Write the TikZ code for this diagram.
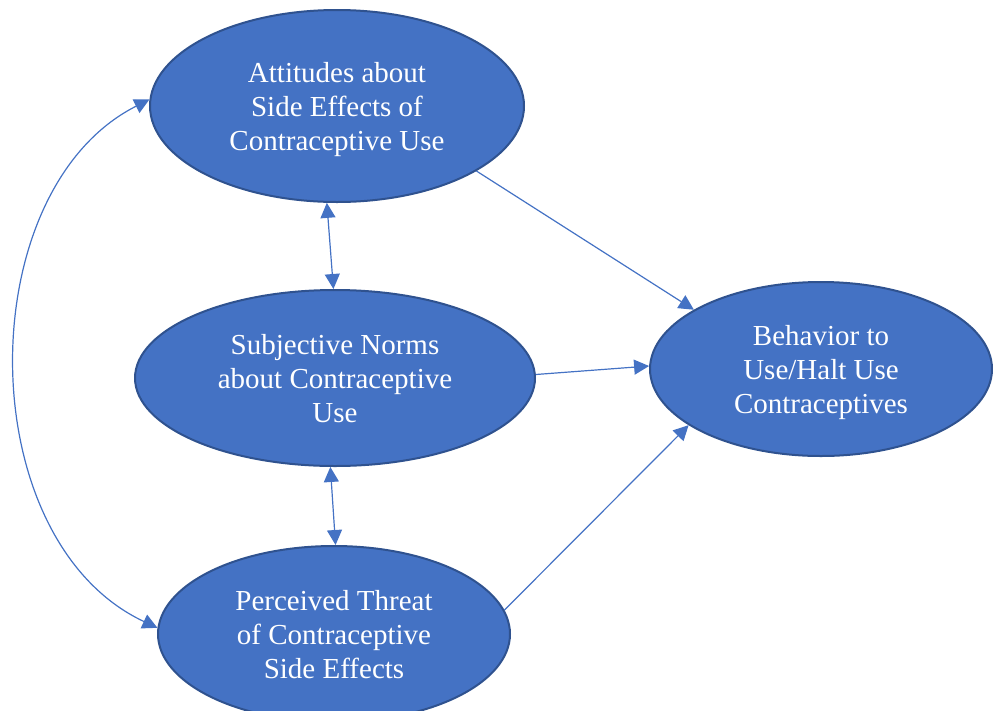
\documentclass[tikz,border=0pt]{standalone}
\usepackage{fontspec}
\setmainfont{Liberation Serif}
\usetikzlibrary{shapes.geometric,arrows.meta}
\definecolor{nodefill}{HTML}{4472C4}
\definecolor{nodeedge}{HTML}{2F528F}
\definecolor{linkcol}{HTML}{4472C4}
\newcommand\lowtext[1]{\raisebox{0pt}[\dimexpr\height+8pt\relax][\depth]{\begin{tabular}{@{}c@{}}#1\end{tabular}}}
\tikzset{
  bubble/.style={ellipse, draw=nodeedge, fill=nodefill, line width=2pt, inner sep=0pt,
    text=white, font=\fontsize{29}{34}\selectfont},
  link/.style={draw=linkcol, line width=1.2pt, -{Triangle[length=15pt,width=15pt]}},
  link2/.style={draw=linkcol, line width=1.2pt, {Triangle[length=15pt,width=15pt]}-{Triangle[length=15pt,width=15pt]}}
}
\begin{document}
\begin{tikzpicture}[x=1pt,y=-1pt]
\useasboundingbox (0,0) rectangle (993,710);
\node[bubble, minimum width=374pt, minimum height=192pt] (A) at (337,106) {\lowtext{Attitudes about\\Side Effects of\\Contraceptive Use}};
\node[bubble, minimum width=400pt, minimum height=176pt] (B) at (335,378) {\lowtext{Subjective Norms\\about Contraceptive\\Use}};
\node[bubble, minimum width=352pt, minimum height=176pt] (C) at (334,634) {\lowtext{Perceived Threat\\of Contraceptive\\Side Effects}};
\node[bubble, minimum width=342pt, minimum height=174pt] (D) at (821,369) {\lowtext{Behavior to\\Use/Halt Use\\Contraceptives}};
\draw[link] (A.-25) -- (D.155);
\draw[link] (B.1) -- (D.179);
\draw[link] (C.8) -- (D.203);
\draw[link2] (A.-96) -- (B.91);
\draw[link2] (B.-93) -- (C.89);
\draw[link2] (A.178) .. controls (-30,190) and (-30,540) .. (C.178);
\end{tikzpicture}
\end{document}
